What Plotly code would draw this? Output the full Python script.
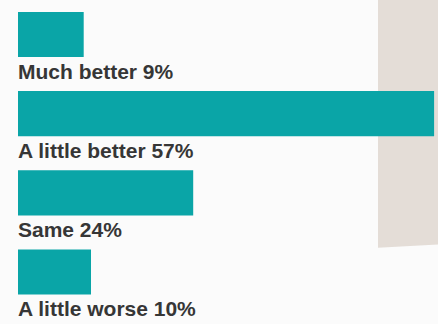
import plotly.graph_objects as go

categories = ["Much better", "A little better", "Same", "A little worse"]
values = [9, 57, 24, 10]

label_texts = [f"{c} {v}%" for c, v in zip(categories, values)]

fig = go.Figure()
fig.add_trace(go.Bar(
    x=values,
    y=categories,
    orientation="h",
    width=0.57,
    marker=dict(color="#0aa5a7", line=dict(width=0)),
    hoverinfo="skip",
))

for c, t in zip(categories, label_texts):
    fig.add_annotation(
        x=0, y=c, xref="x", yref="y",
        text=t, showarrow=False,
        xanchor="left", yanchor="top",
        xshift=-2, yshift=-23,
        font=dict(family="Liberation Sans", size=21, color="#363636", weight="bold"),
    )

# background paper texture area on the right
fig.add_shape(
    type="path", xref="paper", yref="paper",
    path="M 0.863 1 L 1 1 L 1 0.245 L 0.863 0.235 Z",
    fillcolor="#e4ddd7", line=dict(width=0), layer="below",
)

fig.update_layout(
    width=438, height=324,
    margin=dict(l=0, r=0, t=0, b=0),
    paper_bgcolor="#fbfbfb",
    plot_bgcolor="rgba(0,0,0,0)",
    showlegend=False,
    xaxis=dict(range=[-18 / 7.3, 420 / 7.3], visible=False, fixedrange=True),
    yaxis=dict(
        type="category",
        categoryorder="array",
        categoryarray=categories,
        range=[3.657, -0.436],
        visible=False,
        fixedrange=True,
    ),
)

fig.write_html("out.html")
